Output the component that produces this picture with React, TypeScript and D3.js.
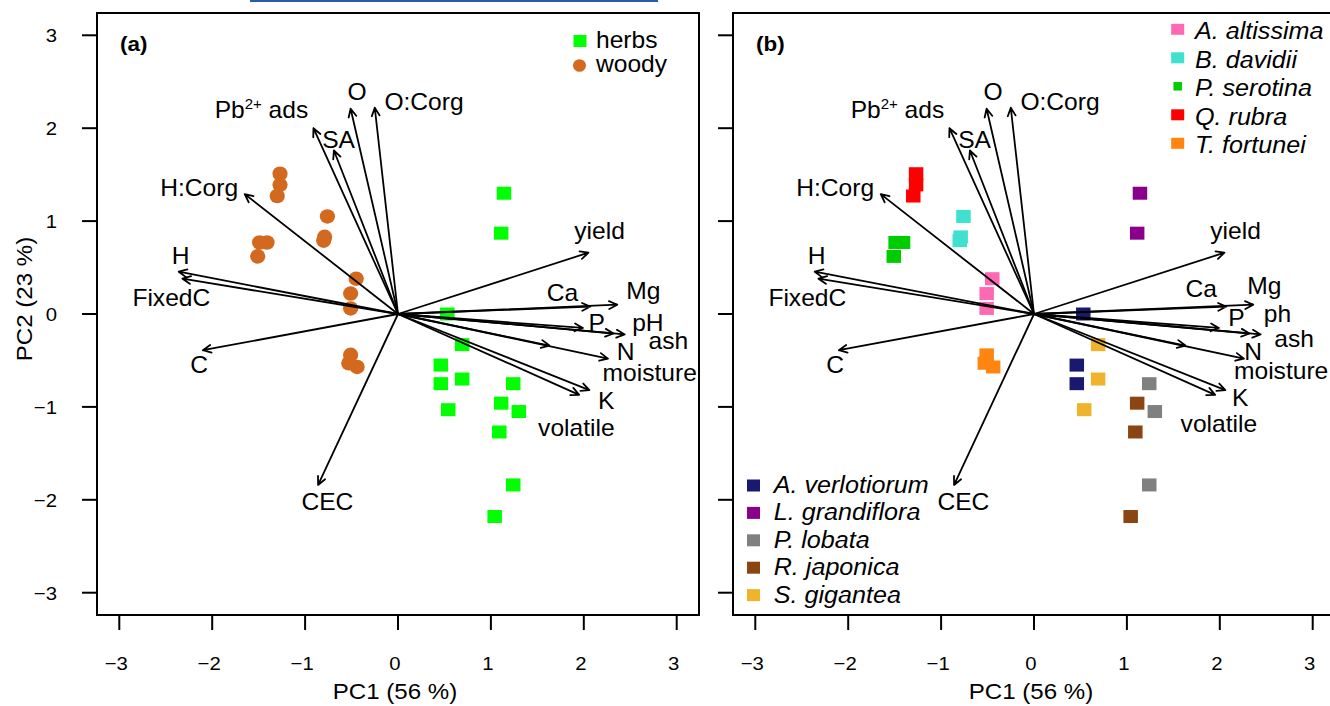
import React from 'react'
import * as d3 from 'd3'

// loadings (arrow tips) and where their labels sit, in PC units
const loadingNames = ['O', 'O:Corg', 'Pb2+ ads', 'SA', 'H:Corg', 'H', 'FixedC', 'C', 'CEC', 'yield', 'Ca', 'Mg', 'P', 'pH', 'ash', 'N', 'moisture', 'K', 'volatile']
const loadingPC1 = [-0.51, -0.25, -0.91, -0.69, -1.65, -2.36, -2.32, -2.10, -0.86, 2.05, 2.07, 2.36, 1.99, 2.44, 2.32, 2.26, 1.63, 2.06, 1.95]
const loadingPC2 = [2.21, 2.22, 2.00, 1.76, 1.29, 0.455, 0.38, -0.39, -1.84, 0.66, 0.08, 0.10, -0.15, -0.22, -0.21, -0.48, -0.34, -0.82, -0.87]
// label spots, panel (a)
const labelPC1 = [-0.44, 0.28, -1.47, -0.64, -2.14, -2.34, -2.44, -2.14, -0.76, 2.17, 1.77, 2.64, 2.14, 2.69, 2.91, 2.45, 2.71, 2.24, 1.92]
const labelPC2 = [2.39, 2.29, 2.20, 1.875, 1.36, 0.63, 0.17, -0.55, -2.02, 0.90, 0.23, 0.25, -0.09, -0.09, -0.29, -0.41, -0.63, -0.93, -1.22]
// label spots, panel (b) (the right-hand ones sit a little differently)
const labelPC1b = [-0.44, 0.28, -1.47, -0.64, -2.14, -2.34, -2.44, -2.14, -0.76, 2.17, 1.80, 2.48, 2.18, 2.62, 2.80, 2.36, 2.66, 2.22, 1.99]
const labelPC2b = [2.39, 2.29, 2.20, 1.875, 1.36, 0.63, 0.17, -0.55, -2.02, 0.90, 0.27, 0.305, -0.04, 0.0, -0.27, -0.405, -0.61, -0.90, -1.18]

// sample scores
const samplePC1 = [-1.27, -1.27, -1.30, -0.76, -0.79, -0.80, -1.49, -1.41, -1.51, -0.45, -0.51, -0.51, -0.51, -0.53, -0.44,
  1.14, 1.11, 0.53, 0.46, 0.46, 0.69, 0.69, 0.54, 1.24, 1.30, 1.24, 1.11, 1.09, 1.04]
const samplePC2 = [1.51, 1.39, 1.27, 1.05, 0.83, 0.79, 0.77, 0.77, 0.62, 0.38, 0.22, 0.06, -0.44, -0.53, -0.57,
  1.30, 0.87, 0.00, -0.55, -0.75, -0.33, -0.70, -1.03, -0.75, -1.05, -1.84, -0.96, -1.27, -2.18]
const sampleSpecies = ['Q. rubra', 'Q. rubra', 'Q. rubra', 'B. davidii', 'B. davidii', 'B. davidii', 'P. serotina', 'P. serotina', 'P. serotina',
  'A. altissima', 'A. altissima', 'A. altissima', 'T. fortunei', 'T. fortunei', 'T. fortunei',
  'L. grandiflora', 'L. grandiflora', 'A. verlotiorum', 'A. verlotiorum', 'A. verlotiorum', 'S. gigantea', 'S. gigantea', 'S. gigantea',
  'P. lobata', 'P. lobata', 'P. lobata', 'R. japonica', 'R. japonica', 'R. japonica']

const woodySpecies = ['A. altissima', 'B. davidii', 'P. serotina', 'Q. rubra', 'T. fortunei']
const herbSpecies = ['A. verlotiorum', 'L. grandiflora', 'P. lobata', 'R. japonica', 'S. gigantea']
const woodyColors = ['#ff69b4', '#40e0d0', '#00cd00', '#ff0000', '#ff8410']
const herbColors = ['#191970', '#8b008b', '#808080', '#8b4513', '#efb42c']
const growthForms = ['herbs', 'woody']
const growthColors = ['#00ff00', '#d2691e']

const ticks = [-3, -2, -1, 0, 1, 2, 3]
const panelTags = ['(a)', '(b)']

const SX = 1.07
const FONT = 'Liberation Sans, Arial, sans-serif'

const speciesColor = d3.scaleOrdinal<string, string>()
  .domain([...woodySpecies, ...herbSpecies])
  .range([...woodyColors, ...herbColors])

function Txt({ x, y, size = 23, anchor = 'middle', italic = false, bold = false, rot = 0, children }: any) {
  return (
    <text transform={`translate(${x},${y})${rot ? ` rotate(${rot})` : ''} scale(${SX},1)`}
      fontSize={size} textAnchor={anchor} fontFamily={FONT}
      fontStyle={italic ? 'italic' : 'normal'} fontWeight={bold ? 'bold' : 'normal'} fill="#000">
      {children}
    </text>
  )
}

function Arrow({ x1, y1, x2, y2 }: any) {
  const a = Math.atan2(y2 - y1, x2 - x1)
  const L = 9, s = Math.PI / 7
  const h1 = [x2 - L * Math.cos(a - s), y2 - L * Math.sin(a - s)]
  const h2 = [x2 - L * Math.cos(a + s), y2 - L * Math.sin(a + s)]
  return <path d={`M${x1},${y1}L${x2},${y2}M${h1[0]},${h1[1]}L${x2},${y2}L${h2[0]},${h2[1]}`}
    fill="none" stroke="#000" strokeWidth={1.8} strokeLinecap="round" strokeLinejoin="round" />
}

const fmt = (t: number) => (t < 0 ? '\u2212' + Math.abs(t) : String(t))

function Panel({ idx }: { idx: number }) {
  const left = idx === 0 ? 97 : 733
  const top = 13, size = 602
  const x = d3.scaleLinear().domain([-3.24, 3.24]).range([left, left + size])
  const y = d3.scaleLinear().domain([-3.24, 3.24]).range([top + size, top])
  const fs = 23
  const lx1 = idx === 0 ? labelPC1 : labelPC1b
  const lx2 = idx === 0 ? labelPC2 : labelPC2b
  const name = (n: string) => (idx === 1 && n === 'pH') ? 'ph' : n

  return (
    <g>
      {/* samples */}
      {samplePC1.map((v, i) => {
        const woody = woodySpecies.includes(sampleSpecies[i])
        if (idx === 0 && woody) {
          return <ellipse key={i} cx={x(v)} cy={y(samplePC2[i])} rx={7.6} ry={7.3} fill={growthColors[1]} />
        }
        const col = idx === 0 ? growthColors[0] : speciesColor(sampleSpecies[i])
        return <rect key={i} x={x(v) - 7.2} y={y(samplePC2[i]) - 6.5} width={14.5} height={13} fill={col} />
      })}

      {/* loadings */}
      {loadingPC1.map((v, i) => (
        <Arrow key={i} x1={x(0)} y1={y(0)} x2={x(v)} y2={y(loadingPC2[i])} />
      ))}
      {loadingNames.map((n, i) => {
        const px = x(lx1[i]), py = y(lx2[i]) + 0.36 * fs
        if (n === 'Pb2+ ads') {
          return (
            <text key={i} transform={`translate(${px},${py}) scale(${SX},1)`} fontSize={fs} textAnchor="middle" fontFamily={FONT}>
              Pb<tspan fontSize={14} dy={-8.5}>2+</tspan><tspan dy={8.5}> ads</tspan>
            </text>
          )
        }
        return <Txt key={i} x={px} y={py} size={fs}>{name(n)}</Txt>
      })}

      {/* frame and axes */}
      <rect x={left} y={top} width={size} height={size} fill="none" stroke="#000" strokeWidth={2} />
      {ticks.map(t => (
        <g key={'x' + t}>
          <line x1={x(t)} x2={x(t)} y1={top + size} y2={top + size + 15} stroke="#000" strokeWidth={2} />
          <Txt x={x(t) - 3} y={670} size={19}>{fmt(t)}</Txt>
        </g>
      ))}
      {ticks.map(t => (
        <g key={'y' + t}>
          <line x1={left - 15} x2={left} y1={y(t)} y2={y(t)} stroke="#000" strokeWidth={2} />
          {idx === 0 && <Txt x={57} y={y(t) + 6.8} size={19} anchor="end">{fmt(t)}</Txt>}
        </g>
      ))}
      <Txt x={x(0) - 3} y={699} size={22.5}>PC1 (56 %)</Txt>
      {idx === 0 && <Txt x={32} y={299} size={22.5} rot={-90}>PC2 (23 %)</Txt>}
      <Txt x={left + 23} y={51} size={21} bold anchor="start">{panelTags[idx]}</Txt>

      {/* legends */}
      {idx === 0 && growthForms.map((g, i) => (
        <g key={g}>
          {i === 0
            ? <rect x={573.5} y={35} width={13} height={12} fill={growthColors[0]} />
            : <ellipse cx={579.5} cy={65.5} rx={6.5} ry={6.3} fill={growthColors[1]} />}
          <Txt x={596} y={48.3 + i * 23.4} size={23} anchor="start">{g}</Txt>
        </g>
      ))}
      {idx === 1 && woodySpecies.map((s, i) => {
        const base = 39.3 + i * 28.5
        const small = s === 'P. serotina'
        const w = small ? 8.5 : 13, h = small ? 8.5 : 11
        return (
          <g key={s}>
            <rect x={1177.7 - w / 2} y={base - 10 - h / 2} width={w} height={h} fill={woodyColors[i]} />
            <Txt x={1195} y={base} size={23.5} anchor="start" italic>{s}</Txt>
          </g>
        )
      })}
      {idx === 1 && herbSpecies.map((s, i) => {
        const base = 493 + i * 27.4
        return (
          <g key={s}>
            <rect x={747} y={base - 7.5 - 6} width={13} height={12} fill={herbColors[i]} />
            <Txt x={773.7} y={base} size={23.5} anchor="start" italic>{s}</Txt>
          </g>
        )
      })}
    </g>
  )
}

export default function App() {
  return (
    <svg width={1330} height={706} style={{ position: 'absolute', left: 0, top: 0, background: '#fff' }}>
      <rect x={0} y={0} width={1330} height={706} fill="#fff" />
      <rect x={250} y={0} width={408} height={2} fill="#2a5caa" />
      <Panel idx={0} />
      <Panel idx={1} />
    </svg>
  )
}
